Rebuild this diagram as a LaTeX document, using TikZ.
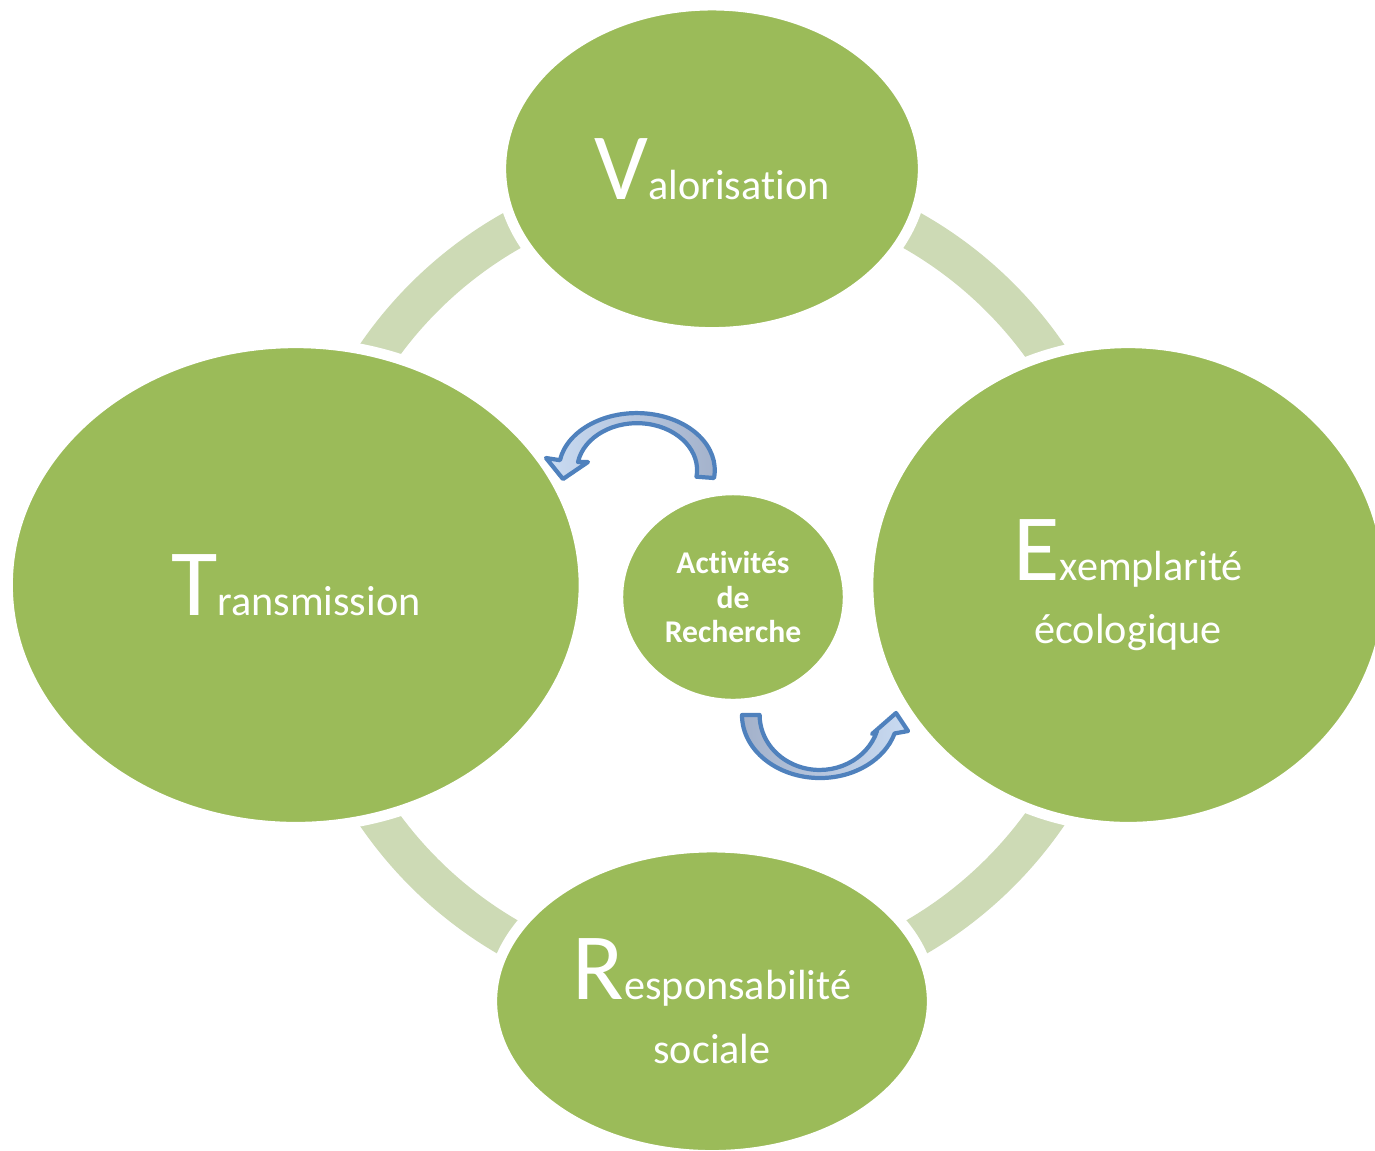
\documentclass[tikz,border=0pt]{standalone}
\usepackage{fontspec}
\setmainfont{Carlito}[Ligatures=NoCommon]
\usetikzlibrary{shapes.geometric,positioning}

\definecolor{vert}{HTML}{9BBB59}
\definecolor{anneauvert}{HTML}{CDDAB5}
\definecolor{bleu}{HTML}{4F81BD}
\definecolor{clair}{HTML}{C9DBF2}
\definecolor{gris}{HTML}{A3B1CA}

\newcommand{\Ini}[1]{{\fontsize{27}{27}\selectfont #1}}

\begin{document}
\begin{tikzpicture}[x=0.01cm, y=-0.01cm, node distance=4.16cm, thick]
	\tikzset{pole/.style={ellipse, fill=vert, draw=white, line width=3pt, inner sep=0pt, text=white, align=center, font=\fontsize{12}{18}\selectfont}}
	\tikzset{anneau/.style={draw=anneauvert, line width=0.39cm}}
	\tikzset{fleche/.style={draw=bleu, line width=1.2pt, line join=round}}

	\useasboundingbox (0,0) rectangle (1375,1150);
	\clip (0,0) rectangle (1375,1150);

	%ANNEAU
	\coordinate (c) at (712,585);
	\draw[anneau] (c) circle[radius=407];

	%POLES
	\node[pole, minimum width=4.22cm, minimum height=3.27cm]	(val) [above of=c]	{\Ini{V}alorisation};
	\node[pole, minimum width=5.76cm, minimum height=4.84cm]	(tra) [left of=c]	{\Ini{T}ransmission};
	\node[pole, minimum width=5.2cm, minimum height=4.84cm]		(exe) [right of=c]	{\Ini{E}xemplarité\\écologique};
	\node[pole, minimum width=4.4cm, minimum height=3.08cm]		(res) [below of=c]	{\Ini{R}esponsabilité\\sociale};
	\node[pole, minimum width=2.3cm, minimum height=2.14cm, font=\fontsize{9}{9.8}\selectfont\bfseries]	(act) at (733,597)	{Activités\\de\\Recherche};

	%FLECHES
	\path[fleche, left color=clair, right color=gris]
		(714,478) arc[start angle=8, end angle=-170, x radius=78, y radius=57]
		-- (546,458) -- (563,479) -- (588,462) -- (578,462)
		arc[start angle=-170, end angle=8, x radius=60, y radius=47] -- cycle;
	\path[fleche, left color=gris, right color=clair]
		(742,715) arc[start angle=180, end angle=17, x radius=78, y radius=63]
		-- (908,731) -- (896,713) -- (872,734) -- (877,731)
		arc[start angle=17, end angle=180, x radius=60, y radius=55] -- cycle;
\end{tikzpicture}
\end{document}
